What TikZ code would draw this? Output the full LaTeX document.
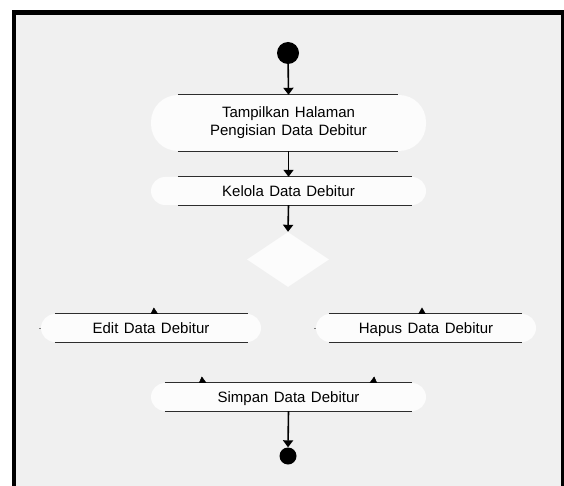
\documentclass[tikz,border=0pt]{standalone}
\usepackage{fontspec}
\setmainfont[WordSpace=1.3]{Liberation Sans}
\usetikzlibrary{arrows.meta,shapes.geometric}

\definecolor{panel}{RGB}{240,240,240}
\definecolor{capsule}{RGB}{252,252,252}
\definecolor{rule}{RGB}{45,45,45}

\begin{document}
\begin{tikzpicture}[x=1pt,y=-1pt,
  activity/.style={rectangle,fill=capsule,draw=none,inner sep=0pt,
    align=center,font=\fontsize{15}{18}\selectfont},
  oneline/.style={text height=10.7pt,text depth=0pt},
  edgeline/.style={draw=rule,line width=1.3pt},
  flow/.style={draw=black,line width=1.6pt,-{Triangle[width=10pt,length=7pt]}},
  looseTip/.style={draw=black,line width=0.4pt,-{Triangle[width=8pt,length=7pt]}},
  dot/.style={circle,fill=black,inner sep=0pt},
  choice/.style={diamond,fill=capsule,draw=none,inner sep=0pt,
    minimum width=82pt,minimum height=55pt}]

\useasboundingbox (0,0) rectangle (564,486);
\clip (0,0) rectangle (564,486);

% frame and panel
\fill[black] (12,10) rectangle (580,500);
\fill[panel] (16,15) rectangle (561,500);

% start / end markers
\node[dot,minimum size=22pt] (start) at (288,53) {};
\node[dot,minimum size=17pt] (finish) at (288,456) {};

% activities
\node[activity,minimum width=275pt,minimum height=56pt,rounded corners=27pt]
  (show) at (288.5,123) {Tampilkan Halaman\\Pengisian Data Debitur};
\node[activity,oneline,minimum width=275pt,minimum height=28pt,rounded corners=14pt]
  (manage) at (288.5,191) {Kelola Data Debitur};
\node[choice] (decide) at (288,259.5) {};
\node[activity,oneline,minimum width=220pt,minimum height=28pt,rounded corners=14pt]
  (edit) at (151,328) {Edit Data Debitur};
\node[activity,oneline,minimum width=220pt,minimum height=28pt,rounded corners=14pt]
  (remove) at (426,328) {Hapus Data Debitur};
\node[activity,oneline,minimum width=275pt,minimum height=28pt,rounded corners=14pt]
  (save) at (288.5,397) {Simpan Data Debitur};

% swim lines on top and bottom of each activity
\foreach \n/\l/\r in {show/27/28, manage/27/14, edit/14/13, remove/13/14, save/14/14}{
  \draw[edgeline] ([xshift=\l pt]\n.north west) -- ([xshift=-\r pt]\n.north east);
  \draw[edgeline] ([xshift=\l pt]\n.south west) -- ([xshift=-\r pt]\n.south east);
}

% control flow
\draw[flow] (start) -- (show.north);
\draw[flow] (show.south) -- (manage.north);
\draw[flow] (manage.south) -- (decide.north);
\draw[flow] (save.south) -- (finish.north);

% loose arrow tips resting on the activities
\coordinate (editIn0) at (154.8,324);
\coordinate (editIn)  at (153.8,307.5);
\coordinate (remIn0)  at (422,324);
\coordinate (remIn)   at (422,307.5);
\coordinate (saveL0)  at (203.5,393);
\coordinate (saveL)   at (201.8,376.5);
\coordinate (saveR0)  at (372.5,393);
\coordinate (saveR)   at (374.2,376.5);
\begin{scope}
  \clip (0,0) rectangle (564,313.8) (0,342) rectangle (564,382.8);
  \draw[looseTip] (editIn0) -- (editIn);
  \draw[looseTip] (remIn0) -- (remIn);
  \draw[looseTip] (saveL0) -- (saveL);
  \draw[looseTip] (saveR0) -- (saveR);
\end{scope}

% small stubs at the left ends of the branch activities
\draw[gray,line width=0.6pt] (edit.west) -- ++(-2,0);
\draw[gray,line width=0.6pt] (remove.west) -- ++(-2,0);
\end{tikzpicture}
\end{document}
